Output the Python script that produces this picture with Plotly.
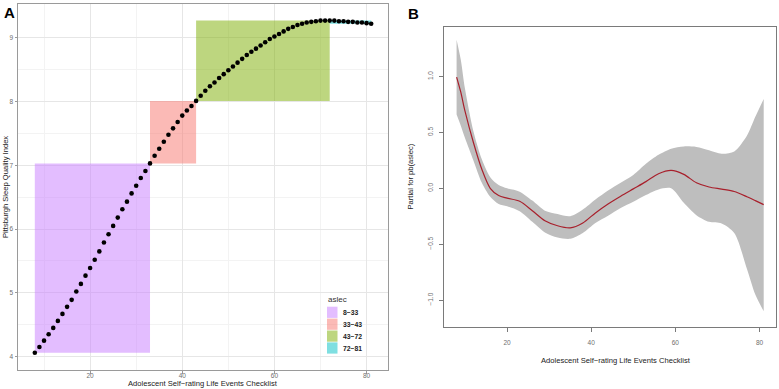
import plotly.graph_objects as go

# ---------------- Panel A data ----------------
aslec_x = list(range(8, 82))
psqi_y = [4.06, 4.15, 4.25, 4.35, 4.45, 4.56, 4.67, 4.78, 4.89, 5.02,
          5.14, 5.27, 5.39, 5.52, 5.65, 5.79, 5.92, 6.05, 6.18, 6.31,
          6.43, 6.56, 6.68, 6.80, 6.91, 7.03, 7.15, 7.26, 7.37, 7.48,
          7.58, 7.68, 7.78, 7.86, 7.93, 8.01, 8.09, 8.17, 8.24, 8.30,
          8.37, 8.43, 8.49, 8.55, 8.61, 8.67, 8.73, 8.78, 8.83, 8.88,
          8.93, 8.98, 9.02, 9.06, 9.10, 9.14, 9.17, 9.20, 9.22, 9.24,
          9.25, 9.26, 9.27, 9.27, 9.27, 9.27, 9.26, 9.26, 9.25, 9.25,
          9.24, 9.24, 9.23, 9.22]
seg_breaks = [8, 33, 43, 72, 81]
seg_labels = ["8\u221233", "33\u221243", "43\u221272", "72\u221281"]
seg_colors = ["rgba(199,124,255,0.5)", "rgba(248,118,109,0.5)",
              "rgba(124,174,0,0.5)", "rgba(0,191,196,0.5)"]

# ---------------- Panel B data ----------------
b_x = [8, 9, 10, 12, 14, 16, 18, 20, 23, 26, 29, 32, 35, 38, 41, 44, 47,
       50, 53, 56, 59, 62, 65, 68, 71, 74, 77, 79, 81]
b_fit = [0.995, 0.86, 0.69, 0.41, 0.17, 0.0, -0.065, -0.088, -0.116, -0.20,
         -0.29, -0.335, -0.354, -0.31, -0.22, -0.14, -0.07, -0.005, 0.06,
         0.13, 0.16, 0.125, 0.05, 0.012, -0.007, -0.028, -0.075, -0.11, -0.146]
b_upper = [1.33, 1.15, 0.89, 0.51, 0.26, 0.10, 0.03, 0.0, -0.03, -0.11,
           -0.20, -0.23, -0.25, -0.19, -0.10, -0.02, 0.05, 0.12, 0.22,
           0.30, 0.355, 0.375, 0.37, 0.34, 0.31, 0.33, 0.47, 0.64, 0.80]
b_lower = [0.66, 0.56, 0.45, 0.25, 0.05, -0.075, -0.14, -0.16, -0.205, -0.30,
           -0.395, -0.44, -0.452, -0.40, -0.31, -0.245, -0.175, -0.12, -0.06,
           -0.01, 0.0, -0.13, -0.24, -0.30, -0.315, -0.40, -0.72, -0.95, -1.10]

W, H = 779, 389
FONT = "Liberation Sans, Arial, sans-serif"


def px(x):
    return x / W


def py(y):
    return 1 - y / H


fig = go.Figure()

# Panel A rectangles (from the data)
shapes = []
for i in range(4):
    a, b = seg_breaks[i], seg_breaks[i + 1]
    vals = [v for xx, v in zip(aslec_x, psqi_y) if a <= xx <= b]
    shapes.append(dict(type="rect", xref="x", yref="y", x0=a, x1=b,
                       y0=min(vals), y1=max(vals), fillcolor=seg_colors[i],
                       line=dict(width=0), layer="between"))

fig.add_trace(go.Scatter(x=aslec_x, y=psqi_y, mode="markers",
                         marker=dict(color="black", size=4.6),
                         xaxis="x", yaxis="y", showlegend=False))

# Panel B band + fit
fig.add_trace(go.Scatter(x=b_x, y=b_lower, mode="lines",
                         line=dict(width=0, shape="spline", smoothing=0.8),
                         xaxis="x2", yaxis="y2", showlegend=False))
fig.add_trace(go.Scatter(x=b_x, y=b_upper, mode="lines", fill="tonexty",
                         fillcolor="#BEBEBE",
                         line=dict(width=0, shape="spline", smoothing=0.8),
                         xaxis="x2", yaxis="y2", showlegend=False))
fig.add_trace(go.Scatter(x=b_x, y=b_fit, mode="lines",
                         line=dict(color="#A8202C", width=1.2, shape="spline", smoothing=0.8),
                         xaxis="x2", yaxis="y2", showlegend=False))

# Legend for panel A (manual)
ann = []
ann.append(dict(x=px(326), y=py(299), xref="paper", yref="paper", text="aslec",
                showarrow=False, xanchor="left", yanchor="middle",
                font=dict(family=FONT, size=8, color="#333333")))
for i in range(4):
    cy = 312.3 + i * 11.9
    shapes.append(dict(type="rect", xref="paper", yref="paper",
                       x0=px(327), x1=px(337.5), y0=py(cy + 5.6), y1=py(cy - 5.6),
                       fillcolor=seg_colors[i], line=dict(width=0)))
    ann.append(dict(x=px(340.5), y=py(cy), xref="paper", yref="paper",
                    text="<b>" + seg_labels[i] + "</b>", showarrow=False,
                    xanchor="left", yanchor="middle",
                    font=dict(family=FONT, size=6.8, color="#222222")))

# Panel letters
ann.append(dict(x=px(2), y=py(13), xref="paper", yref="paper", text="<b>A</b>",
                showarrow=False, xanchor="left", yanchor="middle",
                font=dict(family=FONT, size=15, color="black")))
ann.append(dict(x=px(406), y=py(13.5), xref="paper", yref="paper", text="<b>B</b>",
                showarrow=False, xanchor="left", yanchor="middle",
                font=dict(family=FONT, size=15, color="black")))

# Axis titles
ann.append(dict(x=px(203), y=py(383.5), xref="paper", yref="paper",
                text="Adolescent Self\u2212rating Life Events Checklist", showarrow=False,
                xanchor="center", yanchor="middle",
                font=dict(family=FONT, size=7.6, color="#222222")))
ann.append(dict(x=px(5), y=py(187), xref="paper", yref="paper",
                text="Pittsburgh Sleep Quality Index", showarrow=False, textangle=-90,
                xanchor="center", yanchor="middle",
                font=dict(family=FONT, size=7.6, color="#222222")))
ann.append(dict(x=px(615.5), y=py(360.7), xref="paper", yref="paper",
                text="Adolescent Self\u2212rating Life Events Checklist", showarrow=False,
                xanchor="center", yanchor="middle",
                font=dict(family=FONT, size=7.6, color="#222222")))
ann.append(dict(x=px(410), y=py(176.5), xref="paper", yref="paper",
                text="Partial for pb(aslec)", showarrow=False, textangle=-90,
                xanchor="center", yanchor="middle",
                font=dict(family=FONT, size=7.6, color="#222222")))

tickfont = dict(family=FONT, size=6.5, color="#6E6E6E")

fig.update_layout(
    width=W, height=H, margin=dict(l=0, r=0, t=0, b=0),
    paper_bgcolor="white", plot_bgcolor="white",
    shapes=shapes, annotations=ann, showlegend=False,
    xaxis=dict(domain=[px(18), px(388)], range=[4.35, 84.65],
               tickvals=[20, 40, 60, 80], showgrid=True, gridcolor="#E6E6E6", gridwidth=0.7,
               minor=dict(tickvals=[10, 30, 50, 70], showgrid=True, gridcolor="#F3F3F3", gridwidth=0.5),
               showline=True, mirror=True, linecolor="#9A9A9A", linewidth=1,
               ticks="outside", ticklen=2.5, tickcolor="#9A9A9A", tickfont=tickfont,
               ticklabelstandoff=-3,
               zeroline=False, anchor="y"),
    yaxis=dict(domain=[py(370), py(4)], range=[3.79, 9.53],
               tickvals=[4, 5, 6, 7, 8, 9], showgrid=True, gridcolor="#E6E6E6", gridwidth=0.7,
               minor=dict(tickvals=[4.5, 5.5, 6.5, 7.5, 8.5], showgrid=True, gridcolor="#F3F3F3", gridwidth=0.5),
               showline=True, mirror=True, linecolor="#9A9A9A", linewidth=1,
               ticks="outside", ticklen=2.5, tickcolor="#9A9A9A", tickfont=tickfont,
               zeroline=False, anchor="x"),
    xaxis2=dict(domain=[px(444.3), px(776)], range=[5.08, 83.92],
                tickvals=[20, 40, 60, 80], showgrid=False,
                showline=True, mirror=True, linecolor="#7A7A7A", linewidth=1,
                ticks="outside", ticklen=4.5, tickcolor="#7A7A7A", tickfont=tickfont,
                ticklabelstandoff=5,
                zeroline=False, anchor="y2"),
    yaxis2=dict(domain=[py(326.7), py(26.7)], range=[-1.238, 1.446],
                tickvals=[-1.0, -0.5, 0.0, 0.5, 1.0], ticktext=["\u22121.0", "\u22120.5", "0.0", "0.5", "1.0"],
                showgrid=False, tickangle=-90,
                showline=True, mirror=True, linecolor="#7A7A7A", linewidth=1,
                ticks="outside", ticklen=4.5, tickcolor="#7A7A7A", tickfont=tickfont,
                ticklabelstandoff=3,
                zeroline=False, anchor="x2"),
)

fig.write_html("out.html", config={"displayModeBar": False},
               post_script="document.body.style.margin='0';document.body.style.overflow='hidden';")
